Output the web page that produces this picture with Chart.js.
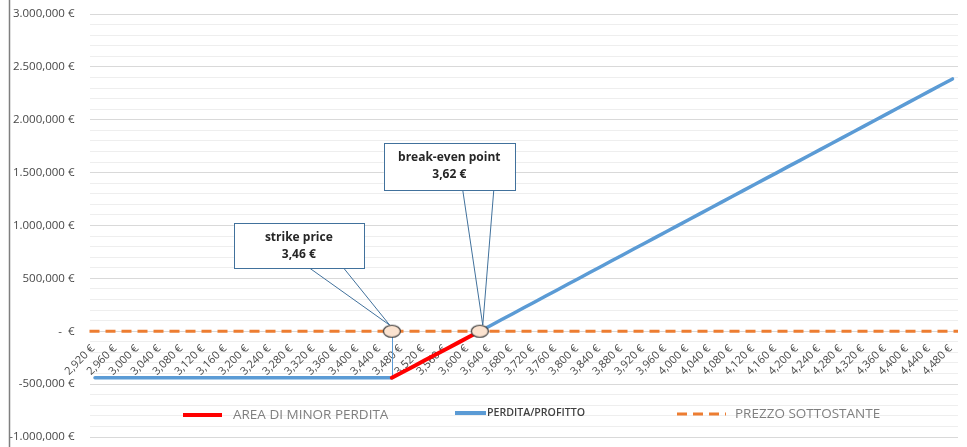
<!DOCTYPE html>
<html>
<head>
<meta charset="utf-8">
<script src="https://cdn.jsdelivr.net/npm/chart.js@4.4.1/dist/chart.umd.min.js"></script>
<style>
  html, body { margin: 0; padding: 0; background: #fff; }
  #wrap { position: relative; width: 967px; height: 447px; }
</style>
</head>
<body>
<div id="wrap"><canvas id="chart" width="967" height="447"></canvas></div>
<script>
// Categories: underlying price, 0,02 steps (every other one is labelled)
const prices = [
  '2,920 €', '2,940 €', '2,960 €', '2,980 €', '3,000 €', '3,020 €', '3,040 €', '3,060 €',
  '3,080 €', '3,100 €', '3,120 €', '3,140 €', '3,160 €', '3,180 €', '3,200 €', '3,220 €',
  '3,240 €', '3,260 €', '3,280 €', '3,300 €', '3,320 €', '3,340 €', '3,360 €', '3,380 €',
  '3,400 €', '3,420 €', '3,440 €', '3,460 €', '3,480 €', '3,500 €', '3,520 €', '3,540 €',
  '3,560 €', '3,580 €', '3,600 €', '3,620 €', '3,640 €', '3,660 €', '3,680 €', '3,700 €',
  '3,720 €', '3,740 €', '3,760 €', '3,780 €', '3,800 €', '3,820 €', '3,840 €', '3,860 €',
  '3,880 €', '3,900 €', '3,920 €', '3,940 €', '3,960 €', '3,980 €', '4,000 €', '4,020 €',
  '4,040 €', '4,060 €', '4,080 €', '4,100 €', '4,120 €', '4,140 €', '4,160 €', '4,180 €',
  '4,200 €', '4,220 €', '4,240 €', '4,260 €', '4,280 €', '4,300 €', '4,320 €', '4,340 €',
  '4,360 €', '4,380 €', '4,400 €', '4,420 €', '4,440 €', '4,460 €', '4,480 €'
];

// PERDITA/PROFITTO (blue): flat loss up to the strike, hidden under the red part, then profit
const profitLoss = [
  -440000, -440000, -440000, -440000, -440000, -440000, -440000, -440000,
  -440000, -440000, -440000, -440000, -440000, -440000, -440000, -440000,
  -440000, -440000, -440000, -440000, -440000, -440000, -440000, -440000,
  -440000, -440000, -440000, -440000, null, null, null, null,
  null, null, null, 0, 55000, 111000, 166000, 222000,
  277000, 333000, 388000, 444000, 499000, 555000, 610000, 666000,
  721000, 777000, 832000, 888000, 943000, 999000, 1054000, 1110000,
  1165000, 1221000, 1276000, 1332000, 1387000, 1443000, 1498000, 1554000,
  1609000, 1665000, 1720000, 1776000, 1831000, 1887000, 1942000, 1998000,
  2053000, 2109000, 2164000, 2220000, 2275000, 2331000, 2386000
];

// AREA DI MINOR PERDITA (red): strike -> break-even
const minorLoss = [
  null, null, null, null, null, null, null, null,
  null, null, null, null, null, null, null, null,
  null, null, null, null, null, null, null, null,
  null, null, null, -440000, -385000, -330000, -275000, -220000,
  -165000, -110000, -55000, 0
];

// PREZZO SOTTOSTANTE (orange dashed), on a non-offset axis so it spans the whole plot
const underlying = [
  0, 0, 0, 0, 0, 0, 0, 0, 0, 0, 0, 0, 0, 0, 0, 0, 0, 0, 0, 0,
  0, 0, 0, 0, 0, 0, 0, 0, 0, 0, 0, 0, 0, 0, 0, 0, 0, 0, 0, 0,
  0, 0, 0, 0, 0, 0, 0, 0, 0, 0, 0, 0, 0, 0, 0, 0, 0, 0, 0, 0,
  0, 0, 0, 0, 0, 0, 0, 0, 0, 0, 0, 0, 0, 0, 0, 0, 0, 0, 0
];

const strikePrice = '3,460 €';
const breakEven = '3,620 €';
const strikeText = ['strike price', '3,46 €'];
const breakEvenText = ['break-even point', '3,62 €'];

const yTickValues = [-1000000, -500000, 0, 500000, 1000000, 1500000, 2000000, 2500000, 3000000];
const yTickLabels = ['-1.000,000 €', '-500,000 €', '-  €', '500,000 €', '1.000,000 €',
  '1.500,000 €', '2.000,000 €', '2.500,000 €', '3.000,000 €'];

const legendNames = ['AREA DI MINOR PERDITA', 'PERDITA/PROFITTO', 'PREZZO SOTTOSTANTE'];

const colors = {
  red: '#FF0000',
  blue: '#5B9BD5',
  orange: '#ED7D31',
  axisText: '#474747',
  legendText: '#7F7F7F',
  callout: '#41719C',
};

Chart.defaults.font.family = "'Open Sans', sans-serif";

// ellipse marker used as point style
function ellipseMarker() {
  const c = document.createElement('canvas');
  c.width = 20; c.height = 15;
  const g = c.getContext('2d');
  g.beginPath();
  g.ellipse(10, 7.5, 8.5, 6, 0, 0, Math.PI * 2);
  g.fillStyle = '#FBE3D0';
  g.fill();
  g.lineWidth = 1.2;
  g.strokeStyle = '#3A3A3A';
  g.stroke();
  return c;
}

function drawCallout(ctx, box, base, tip, lines) {
  const [bx, by, bw, bh] = box;
  ctx.save();
  ctx.strokeStyle = colors.callout;
  ctx.lineWidth = 1;
  ctx.fillStyle = '#fff';
  ctx.beginPath();
  ctx.moveTo(base[0], by + bh);
  ctx.lineTo(tip[0], tip[1]);
  ctx.lineTo(base[1], by + bh);
  ctx.stroke();
  ctx.fillRect(bx, by, bw, bh);
  ctx.strokeRect(Math.round(bx) + 0.5, Math.round(by) + 0.5, bw, bh);
  ctx.fillStyle = '#262626';
  ctx.font = "bold 12px 'Open Sans', sans-serif";
  ctx.textAlign = 'center';
  ctx.textBaseline = 'middle';
  ctx.fillText(lines[0], bx + bw / 2, by + 14);
  ctx.fillText(lines[1], bx + bw / 2, by + 31);
  ctx.restore();
}

const overlay = {
  id: 'overlay',
  beforeDatasetsDraw(chart) {
    const { ctx, scales: { x, y } } = chart;
    const y0 = y.getPixelForValue(0);
    // strike callout + drop line to the loss level
    const sx = x.getPixelForValue(prices.indexOf(strikePrice));
    ctx.save();
    ctx.strokeStyle = colors.blue;
    ctx.lineWidth = 1;
    ctx.beginPath();
    ctx.moveTo(Math.round(sx) + 0.5, y0 + 5);
    ctx.lineTo(Math.round(sx) + 0.5, y.getPixelForValue(profitLoss[prices.indexOf(strikePrice)]));
    ctx.stroke();
    ctx.restore();
    drawCallout(ctx, [sx - 158, y0 - 108, 130, 45], [sx - 82, sx - 48], [sx - 2, y0 - 6], strikeText);
    // break-even callout
    const bx = x.getPixelForValue(prices.indexOf(breakEven));
    drawCallout(ctx, [bx - 96, y0 - 188, 131, 47], [bx - 17, bx + 14], [bx + 3, y0 - 6], breakEvenText);
  },
  afterDraw(chart) {
    const { ctx } = chart;
    ctx.save();
    // chart border on the left
    ctx.strokeStyle = '#7F7F7F';
    ctx.lineWidth = 1.5;
    ctx.beginPath();
    ctx.moveTo(9.5, 0);
    ctx.lineTo(9.5, 447);
    ctx.stroke();
    // legend (sits inside the plot, like the original)
    ctx.textBaseline = 'middle';
    ctx.lineCap = 'butt';
    ctx.strokeStyle = colors.red;
    ctx.lineWidth = 4;
    ctx.beginPath(); ctx.moveTo(183, 415); ctx.lineTo(222, 415); ctx.stroke();
    ctx.fillStyle = colors.legendText;
    ctx.font = "13.5px 'Open Sans', sans-serif";
    ctx.fillText(legendNames[0], 233, 415);

    ctx.strokeStyle = colors.blue;
    ctx.lineWidth = 4;
    ctx.beginPath(); ctx.moveTo(455, 413); ctx.lineTo(486, 413); ctx.stroke();
    ctx.fillStyle = '#404040';
    ctx.font = "600 10.6px 'Open Sans', sans-serif";
    ctx.fillText(legendNames[1], 487, 413);

    ctx.strokeStyle = colors.orange;
    ctx.lineWidth = 3;
    ctx.setLineDash([10, 6]);
    ctx.beginPath(); ctx.moveTo(677, 414); ctx.lineTo(726, 414); ctx.stroke();
    ctx.setLineDash([]);
    ctx.fillStyle = colors.legendText;
    ctx.font = "13.5px 'Open Sans', sans-serif";
    ctx.fillText(legendNames[2], 735, 414);
    ctx.restore();
  }
};

const yTickMap = {};
yTickValues.forEach((v, i) => { yTickMap[v] = yTickLabels[i]; });

new Chart(document.getElementById('chart'), {
  type: 'line',
  data: {
    labels: prices,
    datasets: [
      {
        label: legendNames[0], data: minorLoss, order: 0,
        borderColor: colors.red, borderWidth: 4, pointRadius: 0,
        borderCapStyle: 'round', spanGaps: false,
      },
      {
        label: legendNames[1], data: profitLoss, order: 1,
        borderColor: colors.blue, borderWidth: 3.5, pointRadius: 0,
        borderCapStyle: 'round', borderJoinStyle: 'round', spanGaps: false,
      },
      {
        label: legendNames[2], data: underlying, order: 2, xAxisID: 'x2',
        borderColor: colors.orange, borderWidth: 3, borderDash: [10, 6], pointRadius: 0,
      },
      {
        label: 'markers', order: -1, showLine: false,
        data: [{ x: strikePrice, y: 0 }, { x: breakEven, y: 0 }],
        pointStyle: ellipseMarker(), pointRadius: 8,
      },
    ],
  },
  options: {
    responsive: false,
    animation: false,
    layout: { padding: { left: 0, right: 3.5, top: 14, bottom: 10 } },
    plugins: { legend: { display: false }, tooltip: { enabled: false }, title: { display: false } },
    scales: {
      x: {
        type: 'category',
        offset: true,
        position: { y: 0 },
        grid: { display: false, drawTicks: false },
        border: { display: false },
        ticks: {
          autoSkip: false, minRotation: 45, maxRotation: 45, padding: 11, labelOffset: -2,
          color: colors.axisText, font: { size: 11 },
          callback(v, i) { return i % 2 === 0 ? this.getLabelForValue(v) : ''; },
        },
        afterFit(scale) {
          // labels hang below the zero line, they must not shrink the plot sideways
          scale.paddingLeft = 0;
          scale.paddingRight = 0;
        },
      },
      x2: { type: 'category', labels: prices, offset: false, display: false },
      y: {
        min: -1000000, max: 3000000,
        grid: {
          drawTicks: false,
          color: (c) => (c.tick && c.tick.value % 500000 === 0 ? '#D9D9D9' : '#EEEEEE'),
        },
        border: { display: false },
        ticks: {
          stepSize: 100000, autoSkip: false, padding: 15,
          color: colors.axisText, font: { size: 11.5 },
          callback: (v) => (yTickMap[v] !== undefined ? yTickMap[v] : ''),
        },
        afterFit(scale) {
          scale.width = 89.5;
          // keep the tick padding from pushing the plot top/bottom in
          scale.paddingTop = 7;
          scale.paddingBottom = 7;
        },
      },
    },
  },
  plugins: [overlay],
});
</script>
</body>
</html>
